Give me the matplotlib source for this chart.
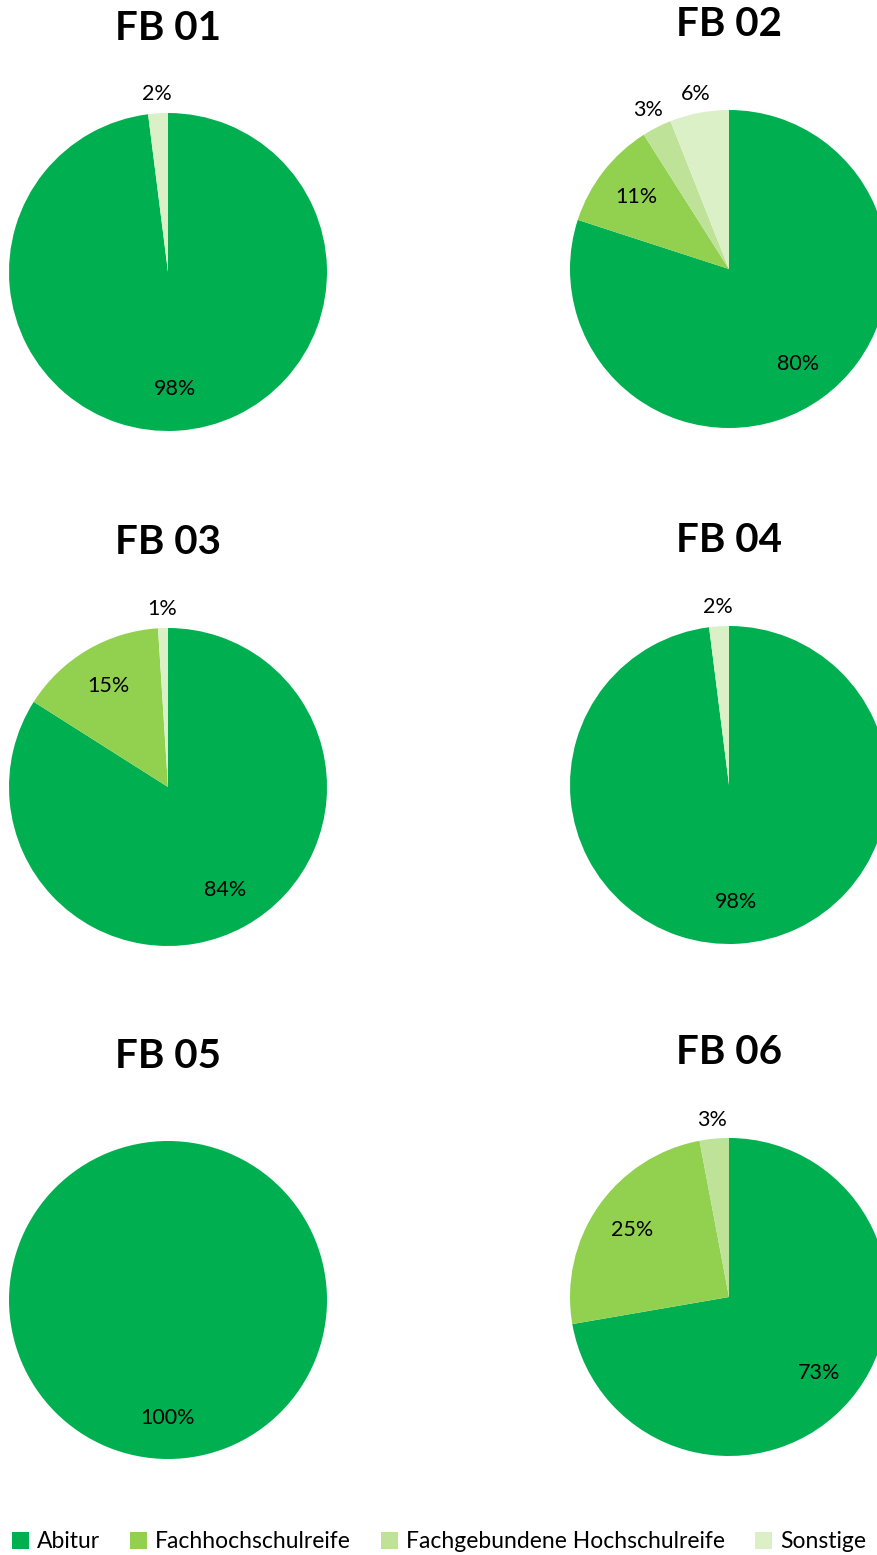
import numpy as np
import matplotlib.pyplot as plt
from matplotlib.patches import Patch

plt.rcParams['font.family'] = ['Lato', 'DejaVu Sans']

# data
kategorien = ['Abitur', 'Fachhochschulreife', 'Fachgebundene Hochschulreife', 'Sonstige']
farben = ['#00B050', '#92D050', '#BDE298', '#DCF0C7']
titel = ['FB 01', 'FB 02', 'FB 03', 'FB 04', 'FB 05', 'FB 06']
fb01 = [98, 0, 0, 2]
fb02 = [80, 11, 3, 6]
fb03 = [84, 15, 0, 1]
fb04 = [98, 0, 0, 2]
fb05 = [100, 0, 0, 0]
fb06 = [73, 25, 3, 0]
werte = [fb01, fb02, fb03, fb04, fb05, fb06]

W, H = 878, 1555
fig = plt.figure(figsize=(W / 100, H / 100), dpi=100)

# pie centres / title positions in pixels (from top left)
mitte_x = [168, 729, 168, 729, 168, 729]
mitte_y = [272, 269, 787, 785, 1300, 1297]
titel_y = [28, 24, 542, 540, 1056, 1052]
r = 159
lim = 1.35

for i in range(6):
    seite = 2 * r * lim
    ax = fig.add_axes([(mitte_x[i] - seite / 2) / W, 1 - (mitte_y[i] + seite / 2) / H,
                       seite / W, seite / H])
    v = werte[i]
    wedges, _ = ax.pie(v, colors=farben, startangle=90, counterclock=False,
                       radius=1, wedgeprops=dict(linewidth=0))
    ax.set_xlim(-lim, lim)
    ax.set_ylim(-lim, lim)
    ax.set_aspect('equal')
    ax.axis('off')
    for w, val in zip(wedges, v):
        if val <= 0:
            continue
        a = np.deg2rad((w.theta1 + w.theta2) / 2)
        d = 1.12 if val < 8 else 0.74
        ax.text(d * np.cos(a), d * np.sin(a), f'{val}%', ha='center', va='center',
                fontsize=15.5, color='black')
    fig.text(mitte_x[i] / W, 1 - titel_y[i] / H, titel[i], ha='center', va='center',
             fontsize=29, fontweight='bold')

handles = [Patch(facecolor=c, edgecolor='none') for c in farben]
fig.legend(handles, kategorien, loc='center', bbox_to_anchor=(0.5, 1 - 1542 / H),
           ncol=4, frameon=False, fontsize=16.5, handlelength=0.75, handleheight=0.75,
           handletextpad=0.35, columnspacing=1.3, borderaxespad=0)

fig.savefig('out.png', dpi=100)
